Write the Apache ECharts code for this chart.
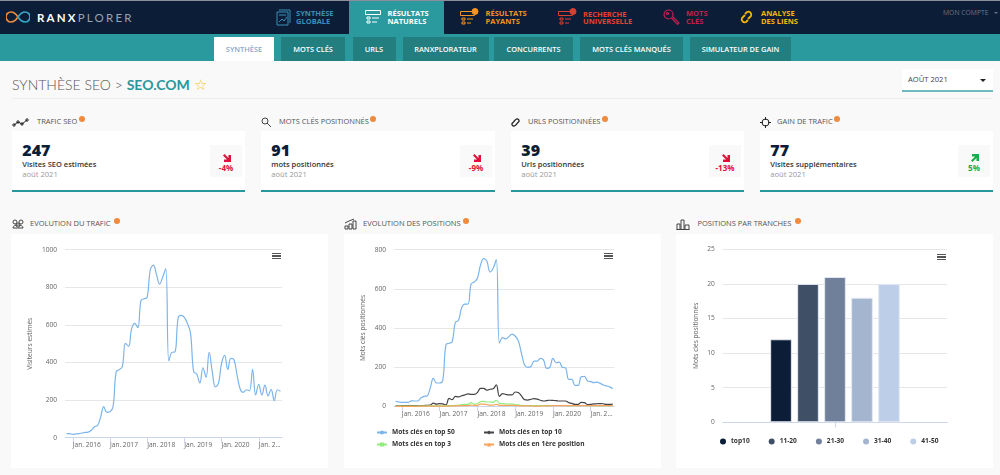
<!DOCTYPE html>
<html>
<head>
<meta charset="utf-8">
<title>Synthèse SEO</title>
<script src="https://cdn.jsdelivr.net/npm/echarts@6/dist/echarts.min.js"></script>
<style>
html,body{margin:0;padding:0;width:1000px;height:475px;overflow:hidden;background:#f9f9f9;font-family:"Open Sans",sans-serif;}
.box{position:absolute;}
.t{position:absolute;white-space:nowrap;line-height:1;}
.nav{font-size:7.5px;font-weight:700;line-height:7.5px;}
.tab{position:absolute;top:37px;height:24px;background:#237e80;color:#fff;font-size:7.4px;font-weight:600;line-height:25px;text-align:center;}
.head{font-size:7.5px;color:#555;}
.badge{position:absolute;width:6px;height:6px;border-radius:3px;background:#f08a3c;}
.card{position:absolute;top:131px;width:233px;height:59px;background:#fff;border-bottom:2px solid #26989c;}
.num{position:absolute;left:10.3px;top:11px;font-size:16px;font-weight:800;color:#0c1d37;line-height:1;}
.lab{position:absolute;left:10.3px;top:30px;font-size:7.5px;font-weight:600;color:#333;line-height:1;white-space:nowrap;}
.dat{position:absolute;left:10.3px;top:40px;font-size:7.6px;color:#999;line-height:1;}
.delta{position:absolute;right:3px;top:14px;width:32px;height:32px;background:#f9f9f9;text-align:center;font-size:8px;font-weight:700;}
.delta svg{position:absolute;left:12.5px;top:9px;}
.delta span{position:absolute;left:0;right:0;top:19px;line-height:1;}
.chart{position:absolute;top:234px;width:317px;height:234px;background:#fff;}
.burger{position:absolute;width:9px;height:6px;}
.burger i{display:block;height:1.3px;background:#555;margin-bottom:1px;}
svg.ic{position:absolute;fill:none;}
</style>
</head>
<body>
<div class="box" style="left:0;top:0;width:1000px;height:1px;background:#8a8f99"></div>
<div class="box" style="left:0;top:1px;width:1000px;height:33px;background:#0c1d37"></div>
<div class="box" style="left:0;top:34px;width:1000px;height:27px;background:#2a9a9f"></div>
<div class="box" style="left:349px;top:1px;width:95px;height:33px;background:#2a9a9f"></div>

<svg class="ic" style="left:6px;top:10px" width="24" height="14" viewBox="0 0 24 14">
  <path d="M12 7C9 2.5 7 2 5 2a5 5 0 0 0 0 10c2 0 4-.5 7-5" stroke="#f08a3c" stroke-width="1.7"/>
  <path d="M12 7c3 4.500 5 5 7 5a5 5 0 0 0 0-10c-2 0-4 .5-7 5" stroke="#3aa6c8" stroke-width="1.7"/>
</svg>
<div class="t" style="left:37px;top:11px;font:700 11.5px Lato;letter-spacing:2.2px;color:#fff">RANX<span style="font-weight:400;color:#9aa3b0">PLORER</span></div>

<svg class="ic" style="left:276px;top:9px" width="15" height="17" viewBox="0 0 15 17" stroke="#3a8fb7"><path d="M3 1h11v13M1 3h11v13H1zM3 13l3-3 2 2 3-4M3 6h7"/></svg>
<div class="t nav" style="left:296px;top:10px;color:#3a8fb7">SYNTHÈSE<br>GLOBALE</div>
<svg class="ic" style="left:365px;top:9px" width="16" height="16" viewBox="0 0 16 16" stroke="#fff"><path d="M.5 1.500h15v4H.5zM2 8h3v2H2zM7 9h7M2 12h3v2H2zM7 13h5"/></svg>
<div class="t nav" style="left:387.500px;top:10px;color:#fff">RÉSULTATS<br>NATURELS</div>
<svg class="ic" style="left:460px;top:8px" width="19" height="17" viewBox="0 0 19 17" stroke="#f39423"><path d="M.5 3.500h14v4H.5zM2 10h3v2H2zM7 11h6M2 14h3v2H2zM7 15h4"/><circle cx="15" cy="3.500" r="3" fill="#f39423"/></svg>
<div class="t nav" style="left:485.500px;top:10px;color:#f39423">RÉSULTATS<br>PAYANTS</div>
<svg class="ic" style="left:558px;top:8px" width="19" height="17" viewBox="0 0 19 17" stroke="#d8412f"><path d="M.5 3.500h14v4H.5zM2 10h3v2H2zM7 11h6M2 14h3v2H2zM7 15h4"/><circle cx="15" cy="3.500" r="3" fill="#d8412f"/></svg>
<div class="t nav" style="left:583px;top:10.500px;color:#e8402f">RECHERCHE<br>UNIVERSELLE</div>
<svg class="ic" style="left:663px;top:9px" width="17" height="17" viewBox="0 0 17 17" stroke="#c2204f" stroke-width="1.200"><circle cx="5.500" cy="5.500" r="4.500"/><circle cx="4.500" cy="4.500" r="1"/><path d="M8.500 9l6 6.500 1.500-1.500-6-6"/></svg>
<div class="t nav" style="left:686px;top:10px;color:#c2204f">MOTS<br>CLÉS</div>
<svg class="ic" style="left:739px;top:9px" width="15" height="16" viewBox="0 0 15 16" stroke="#f5b800" stroke-width="1.800"><path d="M6 6L3 9a3 3 0 0 0 4 4l2-2M9 10l3-3a3 3 0 0 0-4-4L6 5"/></svg>
<div class="t nav" style="left:761px;top:10px;color:#f5b800">ANALYSE<br>DES LIENS</div>
<div class="t" style="left:943px;top:10px;font-size:6.8px;color:#6c7383">MON COMPTE</div>
<div class="box" style="left:994px;top:12px;width:0;height:0;border:2px solid transparent;border-top:2px solid #6c7383;border-bottom:0"></div>

<div class="tab" style="left:214px;width:60px;background:#fff;color:#8aa6c6">SYNTHÈSE</div>
<div class="tab" style="left:281px;width:64px">MOTS CLÉS</div>
<div class="tab" style="left:352.500px;width:43px">URLS</div>
<div class="tab" style="left:402.500px;width:86px">RANXPLORATEUR</div>
<div class="tab" style="left:494px;width:79px">CONCURRENTS</div>
<div class="tab" style="left:580px;width:103px">MOTS CLÉS MANQUÉS</div>
<div class="tab" style="left:690px;width:101px">SIMULATEUR DE GAIN</div>

<div class="t" style="left:12px;top:75px;font:300 14px Lato;color:#555">SYNTHÈSE SEO &gt; <span style="font-weight:700;color:#26989c">SEO.COM</span> <span style="color:#f5c518;font-size:15px">☆</span></div>
<div class="box" style="left:12px;top:98px;width:981px;height:1px;background:#eeeeee"></div>
<div class="box" style="left:902px;top:69px;width:91px;height:21px;background:#fff;border-bottom:2px solid #6fbcc0"></div>
<div class="t" style="left:908px;top:76px;font-size:7.6px;color:#444">AOÛT 2021</div>
<div class="box" style="left:980px;top:79px;width:0;height:0;border:3px solid transparent;border-top:3px solid #222;border-bottom:0"></div>

<svg class="ic" style="left:12px;top:118px" width="18" height="9" viewBox="0 0 18 9" stroke="#222"><path d="M2 7l4-3 4 2 5-4"/><circle cx="2" cy="7" r="1.200"/><circle cx="6" cy="4" r="1.200"/><circle cx="10" cy="6" r="1.200"/><circle cx="15" cy="2" r="1.200"/></svg>
<div class="t head" style="left:37px;top:118px">TRAFIC SEO</div><div class="badge" style="left:79px;top:116px"></div>
<svg class="ic" style="left:261px;top:117px" width="11" height="11" viewBox="0 0 11 11" stroke="#444"><circle cx="4" cy="4" r="3"/><path d="M6 6l4 4"/></svg>
<div class="t head" style="left:279px;top:118px">MOTS CLÉS POSITIONNÉS</div><div class="badge" style="left:370px;top:116px"></div>
<svg class="ic" style="left:510px;top:117px" width="11" height="11" viewBox="0 0 11 11" stroke="#222" stroke-width="1.300"><path d="M4.500 4L2 6.500a2 2 0 0 0 2.500 2.500L7 7M6.500 7L9 4.500a2 2 0 0 0-2.500-2.500L4 4"/></svg>
<div class="t head" style="left:528px;top:118px">URLS POSITIONNÉES</div><div class="badge" style="left:602px;top:116px"></div>
<svg class="ic" style="left:760px;top:117px" width="11" height="11" viewBox="0 0 11 11" stroke="#222"><circle cx="5.500" cy="5.500" r="3.500"/><path d="M5.500 0v3M5.500 8v3M0 5.500h3M8 5.500h3"/></svg>
<div class="t head" style="left:777px;top:118px">GAIN DE TRAFIC</div><div class="badge" style="left:834px;top:116px"></div>

<div class="card" style="left:12px"><div class="num">247</div><div class="lab">Visites SEO estimées</div><div class="dat">août 2021</div>
  <div class="delta" style="color:#e0103a"><svg width="8" height="8" viewBox="0 0 8 8"><path d="M0 1.500L1.500 0 5.500 4V1H8v7H1V5.500h3z" fill="#e0103a"/></svg><span>-4%</span></div></div>
<div class="card" style="left:261px;width:234px"><div class="num">91</div><div class="lab">mots positionnés</div><div class="dat">août 2021</div>
  <div class="delta" style="color:#e0103a"><svg width="8" height="8" viewBox="0 0 8 8"><path d="M0 1.500L1.500 0 5.500 4V1H8v7H1V5.500h3z" fill="#e0103a"/></svg><span>-9%</span></div></div>
<div class="card" style="left:511px"><div class="num">39</div><div class="lab">Urls positionnées</div><div class="dat">août 2021</div>
  <div class="delta" style="color:#e0103a"><svg width="8" height="8" viewBox="0 0 8 8"><path d="M0 1.500L1.500 0 5.500 4V1H8v7H1V5.500h3z" fill="#e0103a"/></svg><span>-13%</span></div></div>
<div class="card" style="left:760px"><div class="num">77</div><div class="lab">Visites supplémentaires</div><div class="dat">août 2021</div>
  <div class="delta" style="color:#12b04a"><svg width="8" height="8" viewBox="0 0 8 8"><path d="M0 6.500L1.500 8 5.500 4V7H8V0H1V2.500h3z" fill="#12b04a"/></svg><span>5%</span></div></div>

<svg class="ic" style="left:12px;top:218px" width="12" height="12" viewBox="0 0 12 12" stroke="#444"><circle cx="3" cy="4" r="2"/><circle cx="9" cy="4" r="2"/><circle cx="6" cy="7" r="2"/><path d="M1 10c0-2 2-3 5-3s5 1 5 3z"/></svg>
<div class="t head" style="left:30px;top:220px">EVOLUTION DU TRAFIC</div><div class="badge" style="left:114px;top:218px"></div>
<svg class="ic" style="left:344px;top:218px" width="13" height="12" viewBox="0 0 13 12" stroke="#444"><path d="M1 11V8h3v3zM5 11V6h3v5zM9 11V3h3v8zM1 5l4-2 5-2"/></svg>
<div class="t head" style="left:363px;top:220px">EVOLUTION DES POSITIONS</div><div class="badge" style="left:463px;top:218px"></div>
<svg class="ic" style="left:676px;top:219px" width="14" height="11" viewBox="0 0 14 11" stroke="#444"><path d="M.5 10.500h13M1 10.500V5h3v5.500M5 10.500V1h3v9.500M9 10.500V6h4v4.500"/></svg>
<div class="t head" style="left:697.500px;top:220px">POSITIONS PAR TRANCHES</div><div class="badge" style="left:795px;top:218px"></div>

<div class="chart" id="chTrafic" style="left:11px"></div>
<div class="chart" id="chPositions" style="left:344px"></div>
<div class="chart" id="chTranches" style="left:676px"></div>
<div class="burger" style="left:272px;top:253px"><i></i><i></i><i></i></div>
<div class="burger" style="left:604px;top:253px"><i></i><i></i><i></i></div>
<div class="burger" style="left:937px;top:254px"><i></i><i></i><i></i></div>

<script>
// donnees
var months = [
  "2015-11","2015-12",
  "2016-01","2016-02","2016-03","2016-04","2016-05","2016-06","2016-07","2016-08","2016-09","2016-10","2016-11","2016-12",
  "2017-01","2017-02","2017-03","2017-04","2017-05","2017-06","2017-07","2017-08","2017-09","2017-10","2017-11","2017-12",
  "2018-01","2018-02","2018-03","2018-04","2018-05","2018-06","2018-07","2018-08","2018-09","2018-10","2018-11","2018-12",
  "2019-01","2019-02","2019-03","2019-04","2019-05","2019-06","2019-07","2019-08","2019-09","2019-10","2019-11","2019-12",
  "2020-01","2020-02","2020-03","2020-04","2020-05","2020-06","2020-07","2020-08","2020-09","2020-10","2020-11","2020-12",
  "2021-01","2021-02","2021-03","2021-04","2021-05","2021-06","2021-07","2021-08"
];
var xTicks = {"2016-01":"Jan. 2016","2017-01":"Jan. 2017","2018-01":"Jan. 2018","2019-01":"Jan. 2019","2020-01":"Jan. 2020","2021-01":"Jan. 2…"};

var visiteurs = [22,22,18,20,22,25,28,30,40,58,65,110,165,135,138,165,350,362,378,502,486,580,608,585,729,739,746,892,918,869,817,853,900,408,454,457,638,651,640,608,555,351,339,291,372,321,454,351,270,289,395,438,363,422,415,333,259,241,255,250,363,227,284,227,280,223,257,197,255,247];

var top50 = [25,22,20,20,20,28,27,27,42,51,53,92,143,119,119,134,315,322,330,429,439,504,522,522,625,635,654,722,754,742,686,705,750,322,351,344,356,369,359,335,271,211,199,203,231,231,245,237,194,199,245,223,226,199,196,138,138,107,107,151,153,129,126,121,123,117,109,104,99,91];
var top10 = [2,2,3,3,3,3,4,4,4,4,5,6,16,11,14,12,7,40,34,51,48,54,58,63,61,61,70,92,92,82,87,90,109,51,65,61,58,58,73,70,53,34,32,36,39,37,31,27,29,31,30,29,27,27,27,19,15,10,10,20,19,9,10,12,13,14,13,10,10,11];
var top3 = [1,1,1,1,1,1,1,1,1,1,2,2,2,2,2,2,3,3,3,5,5,9,10,10,19,11,13,24,25,22,22,20,31,15,14,12,11,12,9,7,5,4,4,3,3,3,3,3,3,4,4,4,4,4,4,3,3,3,3,4,4,3,3,3,3,3,3,3,3,3];
var first = [0,0,0,0,0,0,0,0,1,1,1,1,1,1,1,1,1,1,2,2,3,3,3,3,6,5,5,11,11,8,6,6,10,5,5,5,4,5,4,3,2,2,2,2,1,1,1,2,2,2,3,3,3,3,3,3,3,3,3,3,3,3,3,3,3,3,3,3,3,4];

var tranches = ["top10","11-20","21-30","31-40","41-50"];
var tranchesValues = [12,20,21,18,20];
var tranchesColors = ["#0c1d37","#3f4f66","#71809a","#a4b5cf","#bdcfe8"];

var fontAxis = {fontFamily:"Open Sans",fontSize:6.6,color:"#666"};
var isTick = function(i,v){ return v in xTicks; };

function monthAxis(){
  return {
    type:"category",
    data:months,
    axisLine:{lineStyle:{color:"#ccd6eb"}},
    axisTick:{show:true,alignWithLabel:true,interval:isTick,length:5,lineStyle:{color:"#ccd6eb"}},
    axisLabel:Object.assign({},fontAxis,{interval:isTick,align:"left",margin:4,hideOverlap:false,
      formatter:function(v){ return xTicks[v]; }}),
    splitLine:{show:false}
  };
}
function valueAxis(title,max,step,gap){
  return {
    type:"value",min:0,max:max,interval:step,
    name:title,nameLocation:"middle",nameRotate:90,nameGap:gap,nameMoveOverlap:false,nameTextStyle:fontAxis,
    axisLine:{show:false},axisTick:{show:false},
    axisLabel:Object.assign({},fontAxis,{margin:8,formatter:function(v){ return String(v); }}),
    splitLine:{lineStyle:{color:"#e6e6e6"}}
  };
}
function line(name,values,color,symbol){
  return {name:name,type:"line",data:values,smooth:0.4,symbol:symbol,symbolSize:5,showSymbol:false,
    lineStyle:{color:color,width:1.2},itemStyle:{color:color},animation:false};
}

var chTrafic = echarts.init(document.getElementById("chTrafic"));
chTrafic.setOption({
  animation:false,
  grid:{left:54,right:46,top:15.7,bottom:30.3},
  xAxis:monthAxis(),
  yAxis:valueAxis("Visiteurs estimés",1000,200,31),
  series:[line("Visiteurs",visiteurs,"#7cb5ec","circle")]
});

var legendText = {fontFamily:"Open Sans",fontSize:6.6,fontWeight:"bold",color:"#333"};
var chPositions = echarts.init(document.getElementById("chPositions"));
chPositions.setOption({
  animation:false,
  grid:{left:50,right:46.7,top:15.7,bottom:61.7},
  legend:[
    {orient:"vertical",left:32,top:195,padding:0,itemWidth:10,itemHeight:5,itemGap:5,textStyle:legendText,
     data:["Mots clés en top 50","Mots clés en top 3"]},
    {orient:"vertical",left:139,top:195,padding:0,itemWidth:10,itemHeight:5,itemGap:5,textStyle:legendText,
     data:["Mots clés en top 10","Mots clés en 1ère position"]}
  ],
  xAxis:monthAxis(),
  yAxis:valueAxis("Mots clés positionnés",800,200,27),
  series:[
    line("Mots clés en top 50",top50,"#7cb5ec","circle"),
    line("Mots clés en top 10",top10,"#434348","diamond"),
    line("Mots clés en top 3",top3,"#90ed7d","rect"),
    line("Mots clés en 1ère position",first,"#f7a35c","triangle")
  ]
});

var chTranches = echarts.init(document.getElementById("chTranches"));
chTranches.setOption({
  animation:false,
  grid:{left:46.7,right:45.7,top:15.3,bottom:45.7},
  legend:{left:44,top:204,padding:0,icon:"circle",itemWidth:6,itemHeight:6,itemGap:19,
    itemStyle:{borderWidth:0},textStyle:legendText,data:tranches},
  xAxis:{type:"category",data:[""],
    axisLine:{lineStyle:{color:"#ccd6eb"}},
    axisTick:{show:true,alignWithLabel:true,length:5,lineStyle:{color:"#ccd6eb"}},
    axisLabel:{show:false}},
  yAxis:valueAxis("Mots clés positionnés",25,5,23),
  series:tranches.map(function(name,i){
    return {name:name,type:"bar",data:[tranchesValues[i]],barWidth:21.7,barGap:"24.400%",
      itemStyle:{color:tranchesColors[i],borderColor:"#e4e9f2",borderWidth:1}};
  })
});
</script>
</body>
</html>
